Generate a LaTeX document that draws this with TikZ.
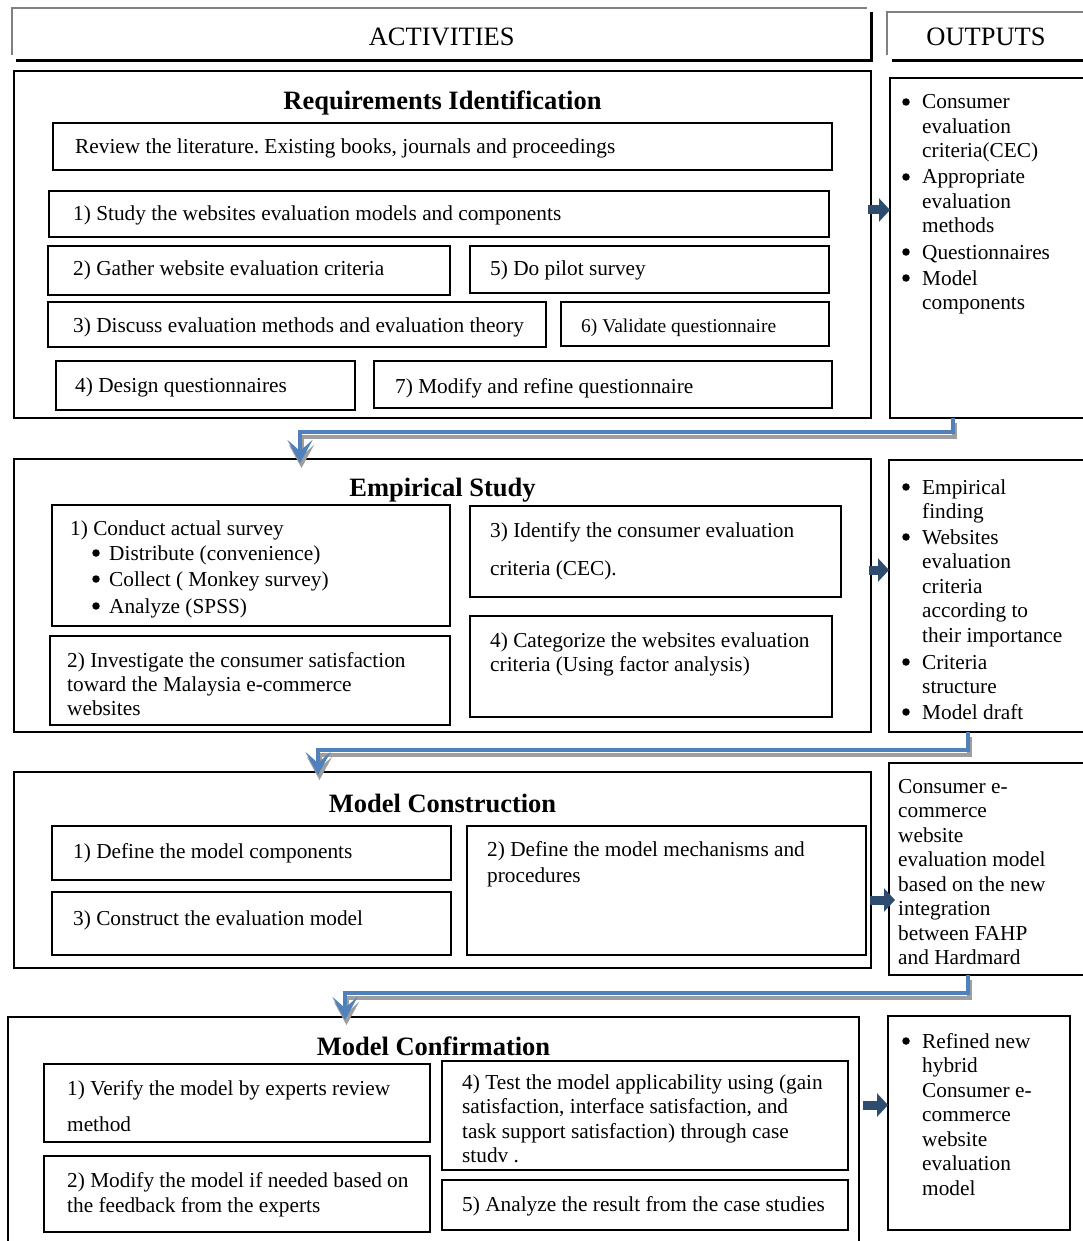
\documentclass[tikz,border=0pt]{standalone}
\usepackage{fontspec}
\setmainfont{Liberation Serif}
\usetikzlibrary{arrows.meta,calc}
\definecolor{flowblue}{HTML}{4F81BD}
\definecolor{outnavy}{HTML}{2E4B70}
\definecolor{frameg}{HTML}{808080}
\frenchspacing
\newcommand\bodyfs{\fontsize{21.3}{24.5}\selectfont}
\newcommand\titlefs{\fontsize{26.5}{30}\selectfont}
% box from (x1,y1) to (x2,y2), y measured downwards
\newcommand\pbox[5]{\node[box, minimum width={#4-#2}, minimum height={#5-#3}] (#1) at (#2,#3) {};}
% stacked lines whose baseline is that of the first line
\newcommand\ml[1]{\begin{tabular}[t]{@{}l@{}}#1\end{tabular}}
\begin{document}
\begin{tikzpicture}[x=1pt,y=-1pt,
  box/.style={draw, line width=1.6pt, rectangle, inner sep=0pt, outer sep=0pt, anchor=north west},
  txt/.style={anchor=base west, inner sep=0pt, font=\bodyfs},
  bul/.style={circle, fill=black, inner sep=0pt, minimum size=7.5pt, yshift=7pt},
  title/.style={anchor=base, inner sep=0pt, font=\titlefs\bfseries},
  head/.style={anchor=base, inner sep=0pt, font=\titlefs},
  hdlight/.style={frameg, line width=2pt},
  hddark/.style={black, line width=3.2pt},
  blockarrow/.style={outnavy, line width=9pt, -{Triangle[length=11pt,width=23pt]}},
  flow/.style={flowblue, line width=4.5pt, line join=miter, -{Stealth[length=23pt,width=25pt,inset=11pt]}},
  flowshadow/.style={black!38, line width=4.5pt, line join=miter, -{Stealth[length=23pt,width=25pt,inset=11pt]},
    transform canvas={shift={(1.5pt,-5pt)}}},
]
\useasboundingbox (0,0) rectangle (1082,1241);
\fill[white] (0,0) rectangle (1082,1241);

% ---------- column headers ----------
\node[inner sep=0pt, minimum width=859, minimum height=52, anchor=north west] (hdA) at (12,8) {};
\draw[hdlight] ([yshift=5pt]hdA.south west) |- ([xshift=-4pt]hdA.north east);
\draw[hddark] ([xshift=4pt]hdA.south west) -| ([yshift=-4pt]hdA.north east);
\node[head] (hdAt) at (hdA.north |- 0,46) {ACTIVITIES};

\node[inner sep=0pt, minimum width=197, minimum height=48, anchor=north west] (hdO) at (887,12) {};
\draw[hdlight] ([yshift=5pt]hdO.south west) |- (hdO.north east);
\draw[hddark] ([xshift=5pt]hdO.south west) -- (hdO.south east);
\node[head] (hdOt) at (986,46) {OUTPUTS};

% ---------- 1: requirements identification ----------
\pbox{s1}{14}{71}{871}{418}
\node[title] (s1t) at (s1.north |- 0,110) {Requirements Identification};
\pbox{r0}{53}{123}{832}{170}
\pbox{r1}{49}{191}{829}{237}
\pbox{r2}{48}{246}{450}{295}
\pbox{r5}{470}{246}{829}{293}
\pbox{r3}{48}{302}{546}{347}
\pbox{r6}{561}{302}{829}{346}
\pbox{r4}{56}{361}{355}{410}
\pbox{r7}{374}{361}{832}{408}
\node[txt] (r0t) at (75,154) {Review the literature. Existing books, journals and proceedings};
\node[txt] (r1t) at (73,221) {1) Study the websites evaluation models and components};
\node[txt] (r2t) at (73,276) {2) Gather website evaluation criteria};
\node[txt] (r5t) at (490,276) {5) Do pilot survey};
\node[txt] (r3t) at (73,332) {3) Discuss evaluation methods and evaluation theory};
\node[txt, font=\fontsize{19.5}{23}\selectfont] (r6t) at (581,332) {6) Validate questionnaire};
\node[txt] (r4t) at (75,392) {4) Design questionnaires};
\node[txt] (r7t) at (395,393) {7) Modify and refine questionnaire};

\pbox{o1}{890}{78}{1086}{418}
\node[bul] (o1b1) at (906,109) {};
\node[txt] (o1t1) at (922,109) {\ml{Consumer\\evaluation\\criteria(CEC)}};
\node[bul] (o1b2) at (906,184) {};
\node[txt] (o1t2) at (922,184) {\ml{Appropriate\\evaluation\\methods}};
\node[bul] (o1b3) at (906,259) {};
\node[txt] (o1t3) at (922,259) {Questionnaires};
\node[bul] (o1b4) at (906,285) {};
\node[txt] (o1t4) at (922,285) {\ml{Model\\components}};

% ---------- 2: empirical study ----------
\pbox{s2}{14}{459}{871}{732}
\node[title] (s2t) at (s2.north |- 0,496) {Empirical Study};
\pbox{e1}{52}{505}{450}{626}
\pbox{e2}{50}{636}{450}{725}
\pbox{e3}{470}{506}{841}{597}
\pbox{e4}{470}{616}{832}{717}
\node[txt] (e1t) at (70,535) {1) Conduct actual survey};
\node[bul] (e1b1) at (96,560) {};
\node[txt] (e1t1) at (109,560) {Distribute (convenience)};
\node[bul] (e1b2) at (96,586) {};
\node[txt] (e1t2) at (109,586) {Collect ( Monkey survey)};
\node[bul] (e1b3) at (96,613) {};
\node[txt] (e1t3) at (109,613) {Analyze (SPSS)};
\node[txt, font=\fontsize{21.3}{24}\selectfont] (e2t) at (67,667) {\ml{2) Investigate the consumer satisfaction\\toward the Malaysia e-commerce\\websites}};
\node[txt] (e3t1) at (490,537) {3) Identify the consumer evaluation};
\node[txt] (e3t2) at (490,575) {criteria (CEC).};
\node[txt, font=\fontsize{21.3}{24}\selectfont] (e4t) at (490,647) {\ml{4) Categorize the websites evaluation\\criteria (Using factor analysis)}};

\pbox{o2}{889}{460}{1086}{732}
\node[bul] (o2b1) at (906,494) {};
\node[txt] (o2t1) at (922,494) {\ml{Empirical\\finding}};
\node[bul] (o2b2) at (906,544) {};
\node[txt] (o2t2) at (922,544) {\ml{Websites\\evaluation\\criteria\\according to\\their importance}};
\node[bul] (o2b3) at (906,669) {};
\node[txt] (o2t3) at (922,669) {\ml{Criteria\\structure}};
\node[bul] (o2b4) at (906,719) {};
\node[txt] (o2t4) at (922,719) {Model draft};

% ---------- 3: model construction ----------
\pbox{s3}{14}{772}{871}{968}
\node[title] (s3t) at (s3.north |- 0,812) {Model Construction};
\pbox{c1}{52}{826}{451}{880}
\pbox{c3}{52}{892}{451}{955}
\pbox{c2}{467}{826}{866}{955}
\node[txt] (c1t) at (73,858) {1) Define the model components};
\node[txt] (c3t) at (73,925) {3) Construct the evaluation model};
\node[txt, font=\fontsize{21.3}{26}\selectfont] (c2t) at (487,856) {\ml{2) Define the model mechanisms and\\procedures}};

\pbox{o3}{889}{763}{1086}{975}
\node[txt] (o3t) at (898,793) {\ml{Consumer e-\\commerce\\website\\evaluation model\\based on the new\\integration\\between FAHP\\and Hardmard}};

% ---------- 4: model confirmation ----------
\pbox{s4}{8}{1017}{859}{1245}
\node[title] (s4t) at (s4.north |- 0,1055) {Model Confirmation};
\pbox{f1}{44}{1064}{430}{1142}
\pbox{f2}{44}{1156}{430}{1232}
\pbox{f4}{442}{1061}{848}{1170}
\pbox{f5}{442}{1180}{848}{1230}
\node[txt] (f1t1) at (67,1095) {1) Verify the model by experts review};
\node[txt] (f1t2) at (67,1131) {method};
\node[txt, font=\fontsize{21.3}{25}\selectfont] (f2t) at (67,1187) {\ml{2) Modify the model if needed based on\\the feedback from the experts}};
\node[txt] (f4t) at (462,1089) {\ml{4) Test the model applicability using (gain\\satisfaction, interface satisfaction, and\\task support satisfaction) through case\\studv .}};
\node[txt] (f5t) at (462,1211) {5) Analyze the result from the case studies};

\pbox{o4}{888}{1016}{1070}{1230}
\node[bul] (o4b1) at (906,1048) {};
\node[txt] (o4t) at (922,1048) {\ml{Refined new\\hybrid\\Consumer e-\\commerce\\website\\evaluation\\model}};

% ---------- activity -> output arrows ----------
\draw[blockarrow] (s1.east |- 0,210) ++(-3,0) -- (o1.west |- 0,210);
\draw[blockarrow] (s2.east |- 0,570) ++(-2,0) -- (o2.west |- 0,570);
\draw[blockarrow] (s3.east |- 0,900) ++(-1,0) -- ($(o3.west |- 0,900)+(6,0)$);
\draw[blockarrow] (s4.east |- 0,1105) ++(4,0) -- (o4.west |- 0,1105);

% ---------- flow between stages ----------
\coordinate (k1) at (953,432);  \coordinate (m1) at (300,432);
\coordinate (k2) at (968,750);  \coordinate (m2) at (318,750);
\coordinate (k3) at (968,993);  \coordinate (m3) at (345,993);
\foreach \st in {flowshadow,flow}{
  \draw[\st] (k1 |- o1.south) -- (k1) -- (m1) -- ($(m1 |- s2.north)+(0,4)$);
  \draw[\st] (k2 |- o2.south) -- (k2) -- (m2) -- ($(m2 |- s3.north)+(0,3)$);
  \draw[\st] (k3 |- o3.south) -- (k3) -- (m3) -- ($(m3 |- s4.north)+(0,3)$);
}
\end{tikzpicture}
\end{document}
